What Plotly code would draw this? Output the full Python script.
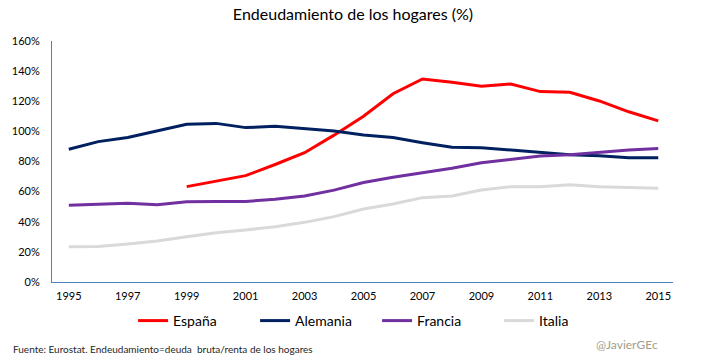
import plotly.graph_objects as go

years = list(range(1995, 2016))
espana = [None, None, None, None, 63.3, 67, 70.6, 78, 85.8, 97.5, 110, 125, 134.8, 132.6, 129.9, 131.5, 126.4, 126, 120.2, 113, 107]
alemania = [88.1, 93.2, 96, 100.2, 104.7, 105.3, 102.5, 103.4, 102, 100.2, 97.6, 96, 92.5, 89.4, 89.2, 87.6, 85.8, 84.5, 83.9, 82.5, 82.5]
francia = [50.9, 51.8, 52.2, 51.3, 53.3, 53.5, 53.5, 54.9, 57.1, 61, 66, 69.5, 72.6, 75.5, 79.2, 81.4, 83.7, 84.5, 86.1, 87.6, 88.7]
italia = [23.4, 23.6, 25.2, 27.2, 30.1, 32.7, 34.5, 36.7, 39.6, 43.4, 48.5, 51.8, 56, 57.1, 61.1, 63.3, 63.3, 64.6, 63.3, 62.9, 62.2]

series = [
    ("España", espana, "#FF0000"),
    ("Alemania", alemania, "#002060"),
    ("Francia", francia, "#7030A0"),
    ("Italia", italia, "#D9D9D9"),
]

y_ticks = [0, 20, 40, 60, 80, 100, 120, 140, 160]
y_labels = [f"{v}%" for v in y_ticks]
x_ticks = list(range(1995, 2016, 2))

FONT = "Lato"

fig = go.Figure()
for name, vals, color in series:
    fig.add_trace(go.Scatter(x=years, y=vals, name=name, mode="lines",
                             line=dict(color=color, width=3), connectgaps=False))

fig.update_layout(
    width=728, height=361,
    margin=dict(l=45, r=55, t=41, b=79),
    paper_bgcolor="white", plot_bgcolor="white",
    font=dict(family=FONT, size=11, color="#000000"),
    title=dict(text="Endeudamiento de los hogares (%)", x=353/728, xanchor="center",
               xref="container", y=1-14/361, yanchor="middle", yref="container",
               font=dict(family=FONT, size=16, color="#000000")),
    showlegend=True,
    legend=dict(orientation="h", x=(127-45)/628, xanchor="left", y=-39/241, yanchor="middle",
                font=dict(family=FONT, size=14, color="#000000"),
                entrywidth=77, entrywidthmode="pixels", bgcolor="rgba(0,0,0,0)"),
    xaxis=dict(range=[1994.43, 2015.5], tickmode="array", tickvals=x_ticks,
               ticktext=[str(v) for v in x_ticks], showgrid=False, zeroline=False,
               showline=True, linecolor="#4F81BD", linewidth=1, ticks="",
               tickfont=dict(size=11), ticklabelstandoff=4, fixedrange=True),
    yaxis=dict(range=[0, 160], tickmode="array", tickvals=y_ticks, ticktext=y_labels,
               showgrid=False, zeroline=False, showline=True, linecolor="#4F81BD",
               linewidth=1, ticks="", tickfont=dict(size=11), ticklabelstandoff=9,
               fixedrange=True),
)

fig.add_annotation(text="Fuente: Eurostat. Endeudamiento=deuda  bruta/renta de los hogares",
                   xref="paper", yref="paper", x=(4-45)/628, y=(282-349)/241,
                   xanchor="left", yanchor="middle", showarrow=False,
                   font=dict(family=FONT, size=10, color="#262626"))
fig.add_annotation(text="@JavierGEc", xref="paper", yref="paper",
                   x=(626-45)/628, y=(282-344)/241, xanchor="center", yanchor="middle",
                   showarrow=False, font=dict(family=FONT, size=12, color="#A49E8A"))

fig.write_html("out.html", config={"displayModeBar": False},
               post_script="document.body.style.margin='0';")
